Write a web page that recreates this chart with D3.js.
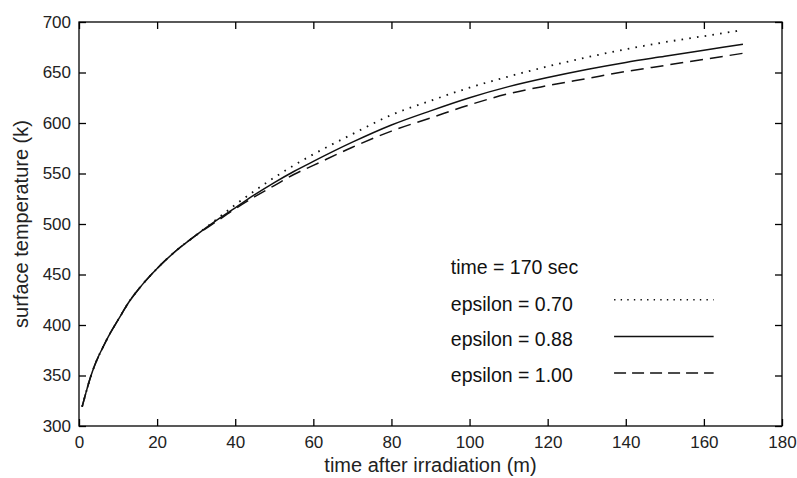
<!DOCTYPE html>
<html>
<head>
<meta charset="utf-8">
<script src="https://cdn.jsdelivr.net/npm/d3@7"></script>
<style>
  body { margin: 0; background: #fff; }
  svg { display: block; font-family: "Liberation Sans", Arial, sans-serif; }
</style>
</head>
<body>
<div id="chart"></div>
<script>
// ---------------------------------------------------------------------------
// DATA
// ---------------------------------------------------------------------------
const times = [0.8, 2, 3, 4, 5, 6, 8, 10, 13, 16, 20, 25, 30, 35, 40, 45, 50, 55, 60,
               70, 80, 90, 100, 110, 120, 130, 140, 150, 160, 170];

const tempEps070 = [319, 336, 349, 360, 369, 377, 392, 405, 424, 439, 456, 474, 489, 504, 519, 533, 546, 558, 569,
                    589, 608, 622, 635, 646, 656, 665, 673, 680, 686, 692];
const tempEps088 = [319, 336, 349, 360, 369, 377, 392, 405, 424, 439, 456, 474, 489, 503, 516, 529, 541, 552, 562,
                    581, 598, 612, 625, 636, 645, 653, 660, 666, 672, 678];
const tempEps100 = [319, 336, 349, 360, 369, 377, 392, 405, 424, 439, 456, 474, 489, 502, 515, 527, 538, 549, 558,
                    576, 592, 605, 618, 629, 637, 644, 651, 657, 663, 669];

const xTicks = [0, 20, 40, 60, 80, 100, 120, 140, 160, 180];
const yTicks = [300, 350, 400, 450, 500, 550, 600, 650, 700];

const seriesNames = ["epsilon = 0.70", "epsilon = 0.88", "epsilon = 1.00"];
const annotation = "time = 170 sec";

// ---------------------------------------------------------------------------
// LAYOUT
// ---------------------------------------------------------------------------
const W = 797, H = 478;
const plot = { left: 79, right: 782, top: 22, bottom: 426 };
const tickLen = 7;

const svg = d3.select('#chart')
  .append('svg')
  .attr('width', W)
  .attr('height', H);

const x = d3.scaleLinear().domain([0, 180]).range([plot.left, plot.right]);
const y = d3.scaleLinear().domain([300, 700]).range([plot.bottom, plot.top]);

// dash styles for each series
const dashes = ["1.6,6.2", null, "13,7"];
const legendDashes = ["1.4,5.2", null, "12,6"];

// ---------------------------------------------------------------------------
// AXES (matlab style: inward ticks on all four sides, boxed)
// ---------------------------------------------------------------------------
svg.append('g')
  .attr('transform', `translate(0,${plot.bottom})`)
  .call(d3.axisBottom(x).tickValues(xTicks).tickSizeInner(-tickLen).tickSizeOuter(0).tickPadding(10));

svg.append('g')
  .attr('transform', `translate(${plot.left},0)`)
  .call(d3.axisLeft(y).tickValues(yTicks).tickSizeInner(-tickLen).tickSizeOuter(0).tickPadding(8));

svg.append('g')
  .attr('transform', `translate(0,${plot.top})`)
  .call(d3.axisTop(x).tickValues(xTicks).tickSizeInner(-tickLen).tickSizeOuter(0).tickFormat(''));

svg.append('g')
  .attr('transform', `translate(${plot.right},0)`)
  .call(d3.axisRight(y).tickValues(yTicks).tickSizeInner(-tickLen).tickSizeOuter(0).tickFormat(''));

svg.selectAll('.domain').remove();
svg.selectAll('.tick line').attr('stroke', '#000').attr('stroke-width', 1.3);
svg.selectAll('.tick text')
  .attr('fill', '#222')
  .style('font-size', '17px');

// frame
svg.append('rect')
  .attr('x', plot.left)
  .attr('y', plot.top)
  .attr('width', plot.right - plot.left)
  .attr('height', plot.bottom - plot.top)
  .attr('fill', 'none')
  .attr('stroke', '#000')
  .attr('stroke-width', 1.3);

// ---------------------------------------------------------------------------
// LINES
// ---------------------------------------------------------------------------
const line = d3.line()
  .x((d, i) => x(times[i]))
  .y(d => y(d))
  .curve(d3.curveMonotoneX);

[tempEps070, tempEps088, tempEps100].forEach((vals, i) => {
  svg.append('path')
    .datum(vals)
    .attr('fill', 'none')
    .attr('stroke', '#111')
    .attr('stroke-width', i === 0 ? 1.8 : 1.5)
    .attr('stroke-dasharray', dashes[i])
    .attr('d', line);
});

// ---------------------------------------------------------------------------
// TEXT ANNOTATIONS (placed in data units)
// ---------------------------------------------------------------------------
const noteX = 95.2;
const noteY = 450.5;
const rowY = [413.5, 379, 344];      // text baselines, in kelvin
const sampleY = [425, 388.5, 352.5]; // sample line heights, in kelvin
const sampleX = [137, 162.5];

svg.append('text')
  .attr('x', x(noteX))
  .attr('y', y(noteY))
  .style('font-size', '19.5px')
  .attr('fill', '#111')
  .text(annotation);

seriesNames.forEach((name, i) => {
  svg.append('text')
    .attr('x', x(noteX))
    .attr('y', y(rowY[i]))
    .style('font-size', '19.5px')
    .attr('fill', '#111')
    .text(name);

  svg.append('line')
    .attr('x1', x(sampleX[0]))
    .attr('x2', x(sampleX[1]))
    .attr('y1', y(sampleY[i]))
    .attr('y2', y(sampleY[i]))
    .attr('stroke', '#111')
    .attr('stroke-width', i === 0 ? 1.6 : 1.5)
    .attr('stroke-dasharray', legendDashes[i]);
});

// ---------------------------------------------------------------------------
// AXIS LABELS
// ---------------------------------------------------------------------------
svg.append('text')
  .attr('x', (plot.left + plot.right) / 2)
  .attr('y', 472)
  .attr('text-anchor', 'middle')
  .style('font-size', '20px')
  .attr('fill', '#222')
  .text('time after irradiation (m)');

svg.append('text')
  .attr('transform', 'rotate(-90)')
  .attr('x', -(plot.top + plot.bottom) / 2)
  .attr('y', 28)
  .attr('text-anchor', 'middle')
  .style('font-size', '20px')
  .attr('fill', '#222')
  .text('surface temperature (k)');
</script>
</body>
</html>
